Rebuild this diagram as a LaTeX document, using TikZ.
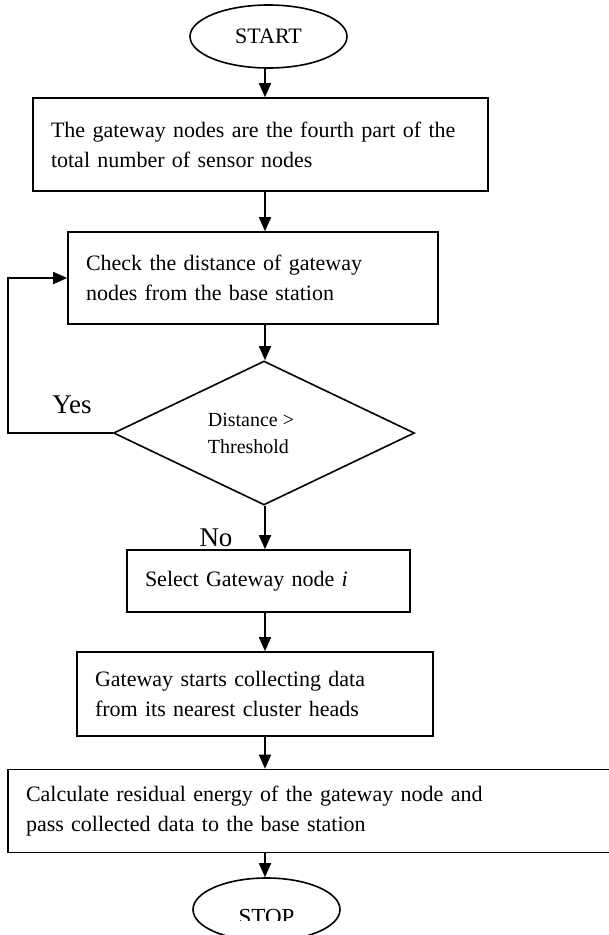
\documentclass[tikz,border=0pt]{standalone}
\usepackage{fontspec}
\setmainfont{Liberation Serif}
\usetikzlibrary{shapes.geometric,arrows.meta,calc}
\begin{document}
\begin{tikzpicture}[x=1pt,y=-1pt,
  line width=1.6pt,
  arr/.style={-{Triangle[length=14pt,width=12pt]}},
  procbox/.style={draw, rectangle, align=left, inner xsep=18pt, inner ysep=0pt, font=\fontsize{22}{30}\selectfont},
  term/.style={draw, ellipse, inner sep=0pt},
  lbl/.style={font=\fontsize{27}{30}\selectfont, inner sep=0pt}]
\useasboundingbox (0,0) rectangle (609,935);
\coordinate (axis) at (265,0);
\coordinate (loop) at (8,0);
\node[term, minimum width=157pt, minimum height=63pt, font=\fontsize{22}{24}\selectfont] (start) at (268.5,36.5) {START};
\node[procbox, minimum height=93pt, text width=419pt] (b1) at (260.5,144.5) {The gateway nodes are the fourth part of the\\ total number of sensor nodes};
\node[procbox, minimum height=92pt, text width=334pt] (b2) at (253,278) {Check the distance of gateway\\ nodes from the base station};
\node[draw, diamond, minimum width=301pt, minimum height=144pt, inner sep=0pt, aspect=2.09, align=left, font=\fontsize{20}{27}\selectfont] (dec) at (264,433) {Distance >\hspace*{26pt}\\Threshold};
\node[procbox, minimum height=62pt, text width=247pt] (b3) at (268.5,581) {Select Gateway node \textit{i}};
\node[procbox, minimum height=84pt, text width=320pt] (b4) at (255,694) {Gateway starts collecting data\\ from its nearest cluster heads};
\node[procbox, minimum height=83pt, text width=581pt] (b5) at (316.5,811) {Calculate residual energy of the gateway node and\\ pass collected data to the base station};
\node[term, minimum width=147pt, minimum height=63pt] (stop) at (266.5,909.5) {};
\begin{scope}
  \clip (0,0) rectangle (609,920);
  \node[font=\fontsize{23}{24}\selectfont, anchor=base, inner sep=0pt] (stoptxt) at (266.5,924) {STOP};
\end{scope}
\node[lbl] (yes) at (72,405) {Yes};
\node[lbl] (no) at (216,538) {No};
\draw[arr] (start.south -| axis) -- (b1.north -| axis);
\draw[arr] (b1.south -| axis) -- (b2.north -| axis);
\draw[arr] (b2.south -| axis) -- (dec.north -| axis);
\draw[arr] (dec.south -| axis) -- (b3.north -| axis);
\draw[arr] (b3.south -| axis) -- (b4.north -| axis);
\draw[arr] (b4.south -| axis) -- (b5.north -| axis);
\draw[arr] (b5.south -| axis) -- (stop.north -| axis);
\draw[arr] (dec.west) -- (dec.west -| loop) |- (b2.west);
\end{tikzpicture}
\end{document}
